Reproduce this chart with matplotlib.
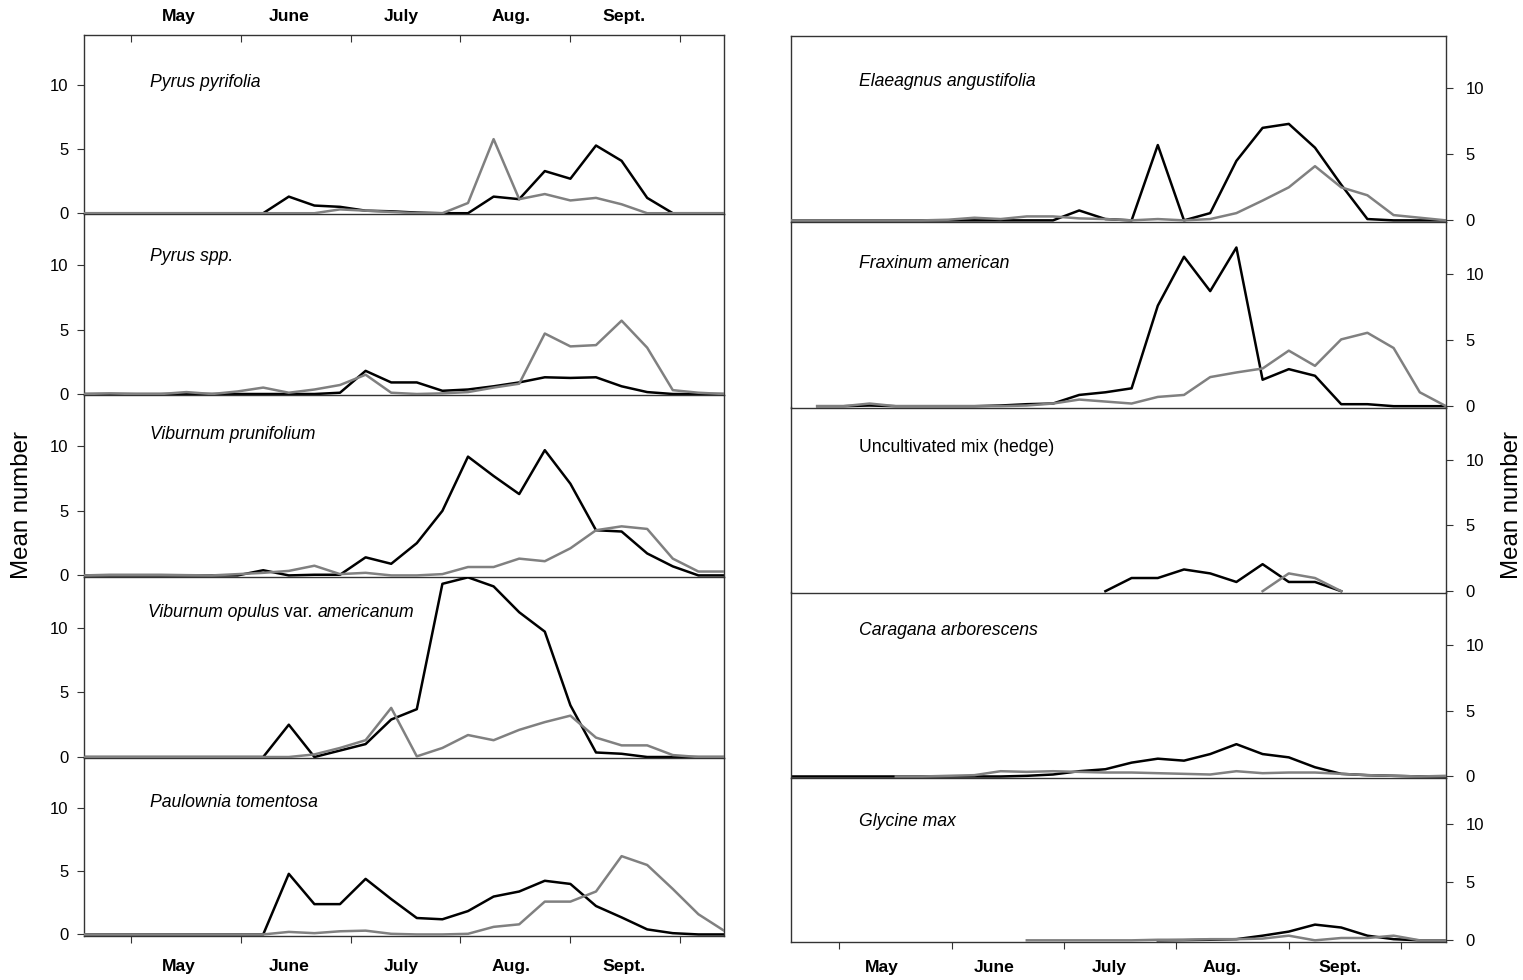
import numpy as np
import matplotlib
matplotlib.use('Agg')
import matplotlib.pyplot as plt

nan = np.nan

# ---------------- data ----------------
weeks = np.arange(26)
month_labels = ['May', 'June', 'July', 'Aug.', 'Sept.']
month_ticks = [1.84, 6.14, 10.43, 14.7, 19.0, 23.27]
left_label_pos = [3.72, 8.02, 12.4, 16.7, 21.1]
right_label_pos = [3.45, 7.75, 12.16, 16.45, 20.94]
yticks = [0, 5, 10]

left_species = ['Pyrus pyrifolia', 'Pyrus spp.', 'Viburnum prunifolium',
                'Viburnum opulus var. americanum', 'Paulownia tomentosa']
right_species = ['Elaeagnus angustifolia', 'Fraxinum american',
                 'Uncultivated mix (hedge)', 'Caragana arborescens', 'Glycine max']

pyrus_pyrifolia_black = [0, 0, 0, 0, 0, 0, 0, 0, 1.3, 0.6, 0.5, 0.2, 0.15, 0.05, 0, 0,
                         1.3, 1.1, 3.3, 2.7, 5.3, 4.1, 1.2, 0, 0, 0]
pyrus_pyrifolia_gray = [0, 0, 0, 0, 0, 0, 0, 0, 0, 0, 0.3, 0.2, 0.1, 0, 0, 0.8,
                        5.8, 1.1, 1.5, 1.0, 1.2, 0.7, 0, 0, 0, 0]

pyrus_spp_black = [0, 0, 0, 0, 0, 0, 0, 0, 0, 0, 0.1, 1.8, 0.9, 0.9, 0.25, 0.35,
                   0.6, 0.9, 1.3, 1.25, 1.3, 0.6, 0.15, 0, 0, 0]
pyrus_spp_gray = [0, 0.05, 0, 0, 0.15, 0, 0.2, 0.5, 0.1, 0.35, 0.7, 1.5, 0.1, 0, 0.05, 0.15,
                  0.5, 0.8, 4.7, 3.7, 3.8, 5.7, 3.6, 0.3, 0.1, 0]

viburnum_prunifolium_black = [0, 0, 0, 0, 0, 0, 0, 0.4, 0, 0.05, 0.05, 1.4, 0.9, 2.5, 5.0, 9.2,
                              7.7, 6.3, 9.7, 7.1, 3.5, 3.4, 1.7, 0.7, 0, 0]
viburnum_prunifolium_gray = [0, 0.05, 0.05, 0.05, 0.02, 0, 0.1, 0.2, 0.35, 0.75, 0.1, 0.2, 0, 0, 0.1, 0.65,
                             0.65, 1.3, 1.1, 2.1, 3.5, 3.8, 3.6, 1.3, 0.3, 0.3]

viburnum_opulus_black = [0, 0, 0, 0, 0, 0, 0, 0, 2.5, 0, 0.5, 1.0, 2.9, 3.7, 13.4, 13.9,
                         13.2, 11.2, 9.7, 4.0, 0.35, 0.25, 0, 0, 0, 0]
viburnum_opulus_gray = [0, 0, 0, 0, 0, 0, 0, 0, 0, 0.2, 0.7, 1.3, 3.8, 0.05, 0.7, 1.7,
                        1.3, 2.1, 2.7, 3.2, 1.5, 0.9, 0.9, 0.15, 0, 0]

paulownia_black = [0, 0, 0, 0, 0, 0, 0, 0, 4.8, 2.4, 2.4, 4.4, 2.8, 1.3, 1.2, 1.85,
                   3.0, 3.4, 4.25, 4.0, 2.25, 1.35, 0.4, 0.1, 0, 0]
paulownia_gray = [0, 0, 0, 0, 0, 0, 0, 0, 0.2, 0.1, 0.25, 0.3, 0.05, 0, 0, 0.05,
                  0.6, 0.8, 2.6, 2.6, 3.4, 6.2, 5.5, 3.6, 1.6, 0.3]

elaeagnus_black = [0, 0, 0, 0, 0, 0, 0, 0, 0, 0, 0, 0.75, 0.1, 0, 5.7, 0,
                   0.55, 4.5, 7.0, 7.3, 5.5, 2.7, 0.1, 0, 0, 0]
elaeagnus_gray = [0, 0, 0, 0, 0, 0, 0.05, 0.2, 0.1, 0.3, 0.3, 0.15, 0.1, 0, 0.1, 0,
                  0.1, 0.55, 1.5, 2.5, 4.1, 2.5, 1.9, 0.4, 0.2, 0]

fraxinum_black = [nan, 0, 0, 0.05, 0, 0, 0, 0, 0.05, 0.15, 0.2, 0.85, 1.05, 1.35, 7.6, 11.3,
                  8.7, 12.0, 2.0, 2.8, 2.3, 0.15, 0.15, 0, 0, 0]
fraxinum_gray = [nan, 0, 0, 0.2, 0, 0, 0, 0, 0, 0.05, 0.2, 0.5, 0.35, 0.2, 0.7, 0.85,
                 2.2, 2.55, 2.85, 4.2, 3.05, 5.05, 5.55, 4.4, 1.05, 0]

uncultivated_black = [nan, nan, nan, nan, nan, nan, nan, nan, nan, nan, nan, nan, 0, 1.0, 1.0, 1.65,
                      1.35, 0.7, 2.05, 0.7, 0.7, 0, nan, nan, nan, nan]
uncultivated_gray = [nan, nan, nan, nan, nan, nan, nan, nan, nan, nan, nan, nan, nan, nan, nan, nan,
                     nan, nan, 0, 1.35, 1.0, 0, nan, nan, nan, nan]

caragana_black = [0, 0, 0, 0, 0, 0, 0, 0, 0, 0.05, 0.15, 0.4, 0.55, 1.05, 1.35, 1.2,
                  1.7, 2.45, 1.7, 1.45, 0.7, 0.2, 0.1, 0.05, 0, 0]
caragana_gray = [nan, nan, nan, nan, 0, 0, 0.05, 0.1, 0.4, 0.35, 0.4, 0.35, 0.3, 0.3, 0.25, 0.2,
                 0.15, 0.4, 0.25, 0.3, 0.3, 0.2, 0.1, 0.05, 0, 0.05]

glycine_black = [nan, nan, nan, nan, nan, nan, nan, nan, nan, nan, nan, nan, nan, nan, 0, 0.02,
                 0.05, 0.1, 0.4, 0.75, 1.35, 1.1, 0.4, 0.1, 0, 0]
glycine_gray = [nan, nan, nan, nan, nan, nan, nan, nan, nan, 0, 0, 0, 0, 0, 0.05, 0.05,
                0.1, 0.1, 0.15, 0.4, 0, 0.2, 0.2, 0.4, 0, 0]

left_black = [pyrus_pyrifolia_black, pyrus_spp_black, viburnum_prunifolium_black,
              viburnum_opulus_black, paulownia_black]
left_gray = [pyrus_pyrifolia_gray, pyrus_spp_gray, viburnum_prunifolium_gray,
             viburnum_opulus_gray, paulownia_gray]
right_black = [elaeagnus_black, fraxinum_black, uncultivated_black, caragana_black, glycine_black]
right_gray = [elaeagnus_gray, fraxinum_gray, uncultivated_gray, caragana_gray, glycine_gray]

# ---------------- style ----------------
FONT = ['Liberation Sans', 'DejaVu Sans']
plt.rcParams['font.family'] = FONT

W, H = 1523, 980
fig = plt.figure(figsize=(W / 100, H / 100), dpi=100)

left_x = (84, 724)
right_x = (791, 1446)
left_bounds = [35, 214.5, 395.3, 576.7, 758.3, 935.7]
right_bounds = [36, 221.7, 407.5, 592.5, 777.8, 941.5]
left_text_y = [10.2, 10.7, 10.95, 10.55, 10.45]
right_text_y = [10.5, 10.8, 10.95, 11.05, 10.2]
BLACK = '#000000'
GRAY = '#808080'
FRAME = '#333333'
TICK_FS = 12
TEXT_FS = 12.7
MONTH_FS = 12.6


def make_ax(x0, x1, ytop, ybot):
    ax = fig.add_axes([x0 / W, 1 - ybot / H, (x1 - x0) / W, (ybot - ytop) / H])
    ax.set_facecolor('none')
    return ax


def style_ax(ax, i, side):
    ax.set_xlim(0, 25)
    ax.set_ylim(-0.1, 13.95)
    for s in ax.spines.values():
        s.set_linewidth(1.0)
        s.set_color(FRAME)
    ax.spines['top'].set_visible(i == 0)
    ax.set_yticks(yticks)
    ax.set_yticklabels([str(v) for v in yticks])
    if side == 'left':
        ax.yaxis.tick_left()
        ax.tick_params(axis='y', direction='out', length=5, width=0.8, labelsize=TICK_FS,
                       pad=6, color=FRAME)
    else:
        ax.yaxis.tick_right()
        ax.tick_params(axis='y', direction='out', length=5, width=0.8, labelsize=TICK_FS,
                       pad=9, color=FRAME)
    ax.set_xticks(month_ticks)
    ax.set_xticklabels([])
    if i == 0 and side == 'left':
        ax.xaxis.tick_top()
        ax.tick_params(axis='x', direction='in', length=5, width=0.8, color=FRAME)
    elif i == 4:
        ax.xaxis.tick_bottom()
        ax.tick_params(axis='x', direction='out', length=5, width=0.8, color=FRAME)
    else:
        ax.set_xticks([])


axes_left = []
for i in range(5):
    ax = make_ax(left_x[0], left_x[1], left_bounds[i], left_bounds[i + 1])
    style_ax(ax, i, 'left')
    ax.plot(weeks, left_black[i], color=BLACK, lw=1.8, zorder=2)
    ax.plot(weeks, left_gray[i], color=GRAY, lw=1.8, zorder=3)
    axes_left.append(ax)

axes_right = []
for i in range(5):
    ax = make_ax(right_x[0], right_x[1], right_bounds[i], right_bounds[i + 1])
    style_ax(ax, i, 'right')
    ax.plot(weeks, right_black[i], color=BLACK, lw=1.8, zorder=2)
    ax.plot(weeks, right_gray[i], color=GRAY, lw=1.8, zorder=3)
    axes_right.append(ax)

# species labels
for i, ax in enumerate(axes_left):
    name = left_species[i]
    if 'var.' in name:
        t1 = ax.text(2.5, left_text_y[i], 'Viburnum opulus', style='italic', fontsize=TEXT_FS,
                     va='bottom', ha='left')
        t2 = ax.annotate(' var. ', xy=(1, 0), xycoords=t1, fontsize=TEXT_FS, va='bottom', ha='left')
        ax.annotate('americanum', xy=(1, 0), xycoords=t2, fontsize=TEXT_FS, style='italic',
                    va='bottom', ha='left')
    else:
        ax.text(2.58, left_text_y[i], name, style='italic', fontsize=TEXT_FS, va='center', ha='left')

for i, ax in enumerate(axes_right):
    name = right_species[i]
    st = 'normal' if name.startswith('Uncultivated') else 'italic'
    ax.text(2.6, right_text_y[i], name, style=st, fontsize=TEXT_FS, va='center', ha='left')

# month labels
for x, lab in zip(left_label_pos, month_labels):
    axes_left[0].annotate(lab, xy=(x, 1), xycoords=('data', 'axes fraction'), xytext=(0, 13),
                          textcoords='offset points', ha='center', va='center',
                          fontweight='bold', fontsize=MONTH_FS)
    axes_left[4].annotate(lab, xy=(x, 0), xycoords=('data', 'axes fraction'), xytext=(0, -22.3),
                          textcoords='offset points', ha='center', va='center',
                          fontweight='bold', fontsize=MONTH_FS)
for x, lab in zip(right_label_pos, month_labels):
    axes_right[4].annotate(lab, xy=(x, 0), xycoords=('data', 'axes fraction'), xytext=(0, -18.4),
                           textcoords='offset points', ha='center', va='center',
                           fontweight='bold', fontsize=MONTH_FS)

# y axis titles
fig.text(22 / W, 1 - 505 / H, 'Mean number', rotation=90, ha='center', va='center',
         fontsize=17.3)
fig.text(1512 / W, 1 - 505 / H, 'Mean number', rotation=90, ha='center', va='center',
         fontsize=17.3)

fig.savefig('out.png', dpi=100)
